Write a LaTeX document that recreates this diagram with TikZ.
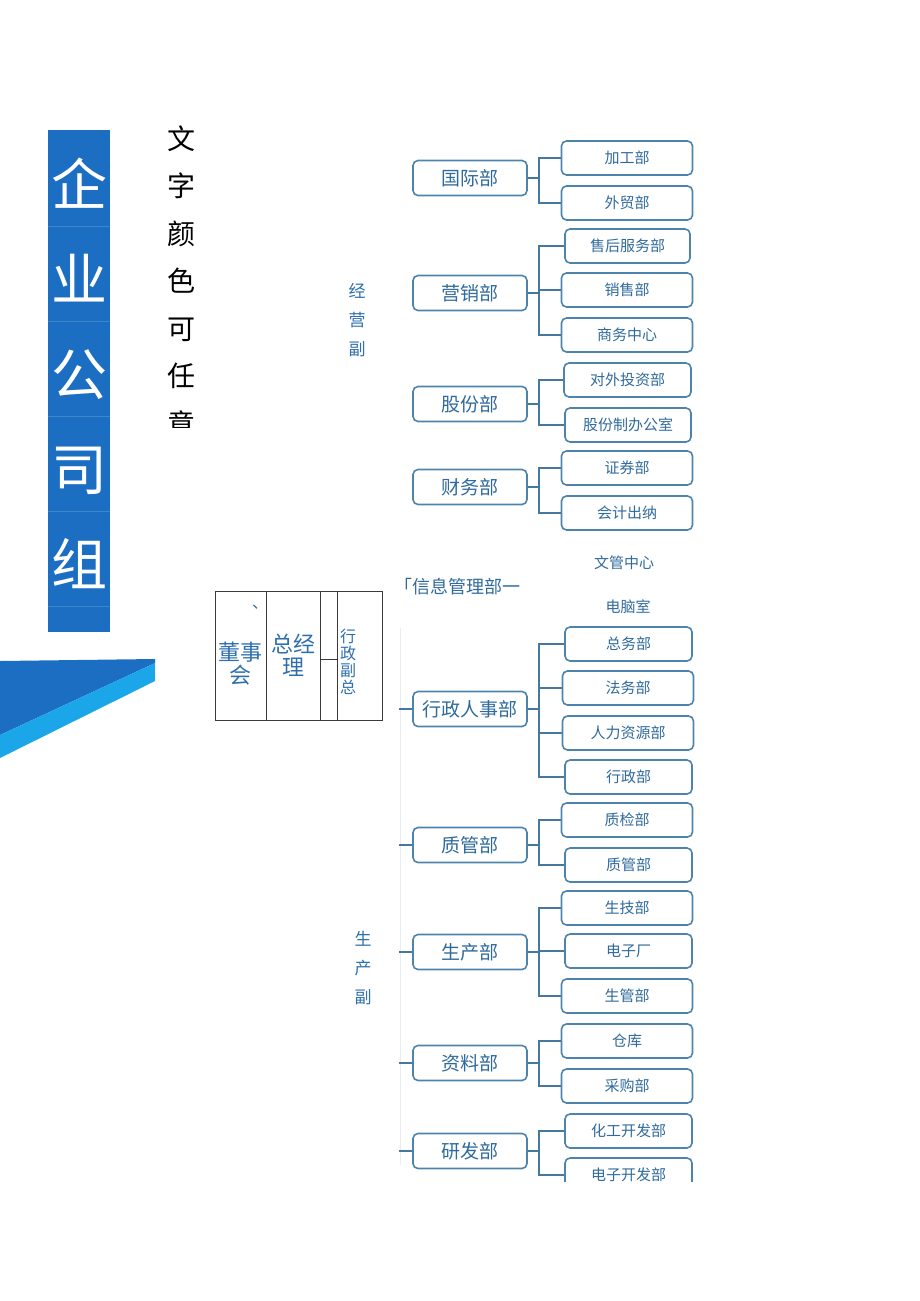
\documentclass[tikz,border=0pt]{standalone}
\usepackage{fontspec}
\setmainfont{Noto Sans CJK SC}
\definecolor{titleblue}{HTML}{1B6EC2}
\definecolor{titlesep}{HTML}{3C86CE}
\definecolor{stripcyan}{HTML}{1BA6EA}
\definecolor{boxline}{HTML}{4C84AE}
\definecolor{boxtext}{HTML}{2F6A9C}
\definecolor{linkblue}{HTML}{44789F}
\definecolor{notetext}{HTML}{2E6FAE}
\definecolor{ruleline}{HTML}{3A3A3A}
\definecolor{faintline}{HTML}{E8EDF2}

\tikzset{
  dept/.style={draw=boxline, line width=1.6pt, rounded corners=5pt, fill=white,
    minimum width=114pt, minimum height=35pt, inner sep=0pt, text=boxtext,
    font=\fontsize{19}{19}\selectfont},
  unit/.style={dept, minimum width=131pt, minimum height=34pt,
    font=\fontsize{15}{15}\selectfont},
  link/.style={draw=linkblue, line width=1.4pt},
  note/.style={text=notetext, inner sep=0pt, align=center},
}

\begin{document}
\begin{tikzpicture}[x=1pt, y=-1pt]
  \useasboundingbox (0,0) rectangle (920,1301);

  % title column
  \fill[titleblue] (48,130) rectangle (110,632);
  \draw[titlesep, line width=0.6pt] (48,226) -- (110,226) (48,321) -- (110,321)
    (48,416) -- (110,416) (48,511) -- (110,511) (48,606) -- (110,606);
  \node[text=white, inner sep=0pt, align=center,
    font=\fontsize{56}{95}\selectfont] (title) at (79,373) {企\\业\\公\\司\\组};

  % corner band
  \fill[titleblue] (0,661) -- (155,659) -- (155,663) -- (0,735) -- cycle;
  \fill[stripcyan] (0,735) -- (155,663) -- (155,681) -- (0,758) -- cycle;

  % hint text, cut at the bottom
  \begin{scope}
    \clip (150,110) rectangle (215,427);
    \node[inner sep=0pt, align=center, font=\fontsize{28}{47.5}\selectfont]
      (hint) at (181,281) {文\\字\\颜\\色\\可\\任\\意};
  \end{scope}

  % board table
  \draw[ruleline, line width=0.8pt] (215,591) rectangle (382,720);
  \draw[ruleline, line width=0.8pt] (266,591) -- (266,720) (320,591) -- (320,720)
    (337,591) -- (337,720) (320,659) -- (337,659);
  \node[note, font=\fontsize{16}{16}\selectfont] (dun) at (260,607) {、};
  \node[note, font=\fontsize{22}{23}\selectfont] (board) at (240,664) {董事\\会};
  \node[note, font=\fontsize{22}{23}\selectfont] (ceo) at (293,655) {总经\\理};
  \node[note, font=\fontsize{16}{17}\selectfont] (adminvp) at (348,662) {行\\政\\副\\总};

  % vice presidents
  \node[note, font=\fontsize{17}{29}\selectfont] (bizvp) at (357,320) {经\\营\\副};
  \node[note, font=\fontsize{17}{29}\selectfont] (prodvp) at (363,968) {生\\产\\副};

  % loose labels
  \node[note, text=boxtext, font=\fontsize{18}{18}\selectfont, anchor=west]
    (infomgmt) at (394,587) {「信息管理部一};
  \node[note, text=boxtext, font=\fontsize{15}{15}\selectfont] (docctr) at (624,563) {文管中心};
  \node[note, text=boxtext, font=\fontsize{15}{15}\selectfont] (pcroom) at (628,607) {电脑室};

  \draw[faintline, line width=1pt] (400,628) -- (400,1165);

  \begin{scope}
    \clip (390,120) rectangle (720,1181);

    % business side
    \node[dept] (intl) at (470,178) {国际部};
    \node[unit] (proc) at (627,158) {加工部};
    \node[unit] (trade) at (627,203) {外贸部};
    \draw[link] (intl.east) -- ++(11,0) |- (proc.west);
    \draw[link] (intl.east) -- ++(11,0) |- (trade.west);

    \node[dept] (mkt) at (470,293) {营销部};
    \node[unit, minimum width=125pt] (aftersale) at (627.5,246) {售后服务部};
    \node[unit] (sales) at (627,290) {销售部};
    \node[unit] (biz) at (627,335) {商务中心};
    \draw[link] (mkt.east) -- ++(11,0) |- (aftersale.west);
    \draw[link] (mkt.east) -- ++(11,0) |- (sales.west);
    \draw[link] (mkt.east) -- ++(11,0) |- (biz.west);

    \node[dept] (share) at (470,404) {股份部};
    \node[unit, minimum width=127pt] (invest) at (627.5,380) {对外投资部};
    \node[unit, minimum width=126pt] (shareoff) at (628,425) {股份制办公室};
    \draw[link] (share.east) -- ++(11,0) |- (invest.west);
    \draw[link] (share.east) -- ++(11,0) |- (shareoff.west);

    \node[dept] (fin) at (470,487) {财务部};
    \node[unit] (secu) at (627,468) {证券部};
    \node[unit] (acct) at (627,513) {会计出纳};
    \draw[link] (fin.east) -- ++(11,0) |- (secu.west);
    \draw[link] (fin.east) -- ++(11,0) |- (acct.west);

    % admin side
    \node[dept] (hr) at (470,709) {行政人事部};
    \node[unit, minimum width=127pt] (general) at (628.5,644) {总务部};
    \node[unit] (legal) at (628,688) {法务部};
    \node[unit] (hres) at (628,733) {人力资源部};
    \node[unit, minimum width=127pt] (admin) at (628.5,777) {行政部};
    \draw[link] (hr.west) -- ++(-13,0);
    \draw[link] (hr.east) -- ++(11,0) |- (general.west);
    \draw[link] (hr.east) -- ++(11,0) |- (legal.west);
    \draw[link] (hr.east) -- ++(11,0) |- (hres.west);
    \draw[link] (hr.east) -- ++(11,0) |- (admin.west);

    % production side
    \node[dept] (qm) at (470,845) {质管部};
    \node[unit] (qc) at (627,820) {质检部};
    \node[unit, minimum width=127pt] (qmsub) at (628.5,865) {质管部};
    \draw[link] (qm.west) -- ++(-13,0);
    \draw[link] (qm.east) -- ++(11,0) |- (qc.west);
    \draw[link] (qm.east) -- ++(11,0) |- (qmsub.west);

    \node[dept] (prod) at (470,952) {生产部};
    \node[unit] (tech) at (627,908) {生技部};
    \node[unit, minimum width=127pt] (elec) at (628.5,951) {电子厂};
    \node[unit] (prodmgmt) at (627,996) {生管部};
    \draw[link] (prod.west) -- ++(-13,0);
    \draw[link] (prod.east) -- ++(11,0) |- (tech.west);
    \draw[link] (prod.east) -- ++(11,0) |- (elec.west);
    \draw[link] (prod.east) -- ++(11,0) |- (prodmgmt.west);

    \node[dept] (mat) at (470,1063) {资料部};
    \node[unit] (store) at (627,1041) {仓库};
    \node[unit] (purch) at (627,1086) {采购部};
    \draw[link] (mat.west) -- ++(-13,0);
    \draw[link] (mat.east) -- ++(11,0) |- (store.west);
    \draw[link] (mat.east) -- ++(11,0) |- (purch.west);

    \node[dept] (rnd) at (470,1151) {研发部};
    \node[unit, minimum width=127pt] (chemdev) at (628.5,1131) {化工开发部};
    \node[unit, minimum width=127pt] (elecdev) at (628.5,1175) {电子开发部};
    \draw[link] (rnd.west) -- ++(-13,0);
    \draw[link] (rnd.east) -- ++(11,0) |- (chemdev.west);
    \draw[link] (rnd.east) -- ++(11,0) |- (elecdev.west);
  \end{scope}
\end{tikzpicture}
\end{document}
